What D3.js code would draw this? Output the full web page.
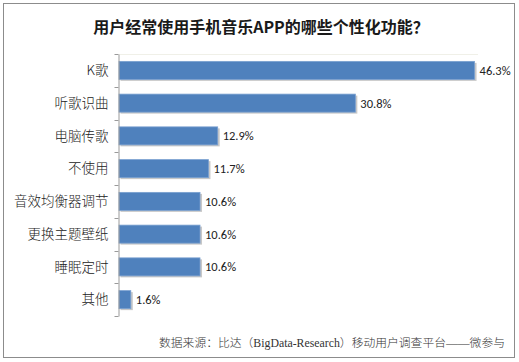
<!DOCTYPE html>
<html><head><meta charset="utf-8">
<script src="https://cdn.jsdelivr.net/npm/d3@7"></script>
<style>body{margin:0;background:#fff}svg{display:block}</style>
</head><body>
<script>
const categories = ["K歌","听歌识曲","电脑传歌","不使用","音效均衡器调节","更换主题壁纸","睡眠定时","其他"];
const values = [46.3,30.8,12.9,11.7,10.6,10.6,10.6,1.6];
const labels = ["46.3%","30.8%","12.9%","11.7%","10.6%","10.6%","10.6%","1.6%"];
const title = "用户经常使用手机音乐APP的哪些个性化功能？";
const source = "数据来源：比达（BigData-Research）移动用户调查平台——微参与";

const W=519,H=362;
const svg=d3.select("body").append("svg").attr("width",W).attr("height",H);
svg.append("rect").attr("x",3.5).attr("y",3.5).attr("width",511).attr("height",354)
  .attr("fill","#fff").attr("stroke","#8c8c8c").attr("stroke-width",1);

svg.append("text").attr("x",261).attr("y",33).attr("text-anchor","middle")
  .attr("font-family","Noto Sans CJK SC").attr("font-weight","bold").attr("font-size",16)
  .attr("fill","#1a1a1a").text(title);

const x=d3.scaleLinear().domain([0,50]).range([119,503.5]);
const y=d3.scaleBand().domain(categories).range([54,316]).paddingInner(0.45).paddingOuter(0.225);

svg.append("line").attr("x1",119).attr("x2",478).attr("y1",54.5).attr("y2",54.5)
  .attr("stroke","#f0f0e8").attr("stroke-width",1);

const g=svg.append("g");
const data=categories.map((c,i)=>({c,v:values[i],l:labels[i]}));
g.selectAll("rect.sh").data(data).enter().append("rect")
  .attr("x",x(0)+1.5).attr("y",d=>y(d.c)+1.5)
  .attr("width",d=>x(d.v)-x(0)).attr("height",y.bandwidth())
  .attr("fill","#c8c8c8");
g.selectAll("rect.bar").data(data).enter().append("rect")
  .attr("x",x(0)).attr("y",d=>y(d.c))
  .attr("width",d=>x(d.v)-x(0)-0.5).attr("height",y.bandwidth())
  .attr("fill","#4f81bd").attr("stroke","#7aa0d0").attr("stroke-width",0.8);

g.selectAll("text.val").data(data).enter().append("text")
  .attr("x",d=>x(d.v)+4.5).attr("y",d=>y(d.c)+y.bandwidth()/2)
  .attr("dy","0.36em").attr("font-family","Carlito, Liberation Sans").attr("font-size",12.5)
  .attr("fill","#222").text(d=>d.l);

const ax=d3.axisLeft(y).tickSize(0).tickPadding(10);
const axg=svg.append("g").attr("transform","translate(118.5,0)").call(ax);
axg.select(".domain").attr("stroke","#9a9a9a");
axg.selectAll("text").attr("font-family","Noto Sans CJK SC").attr("font-weight",300).attr("font-size",13.5).attr("fill","#222").attr("dy","0.35em");
const bounds=d3.range(categories.length+1).map(i=>54+i*(316-54)/categories.length);
svg.selectAll("line.tk").data(bounds).enter().append("line")
  .attr("x1",114.5).attr("x2",118.5).attr("y1",d=>Math.round(d)+0.5).attr("y2",d=>Math.round(d)+0.5)
  .attr("stroke","#9a9a9a");

svg.append("text").attr("x",505).attr("y",347).attr("text-anchor","end")
  .attr("font-family","Liberation Serif, Noto Sans CJK SC").attr("font-weight",300).attr("font-size",11.8)
  .attr("fill","#333").text(source);
</script>
</body></html>
